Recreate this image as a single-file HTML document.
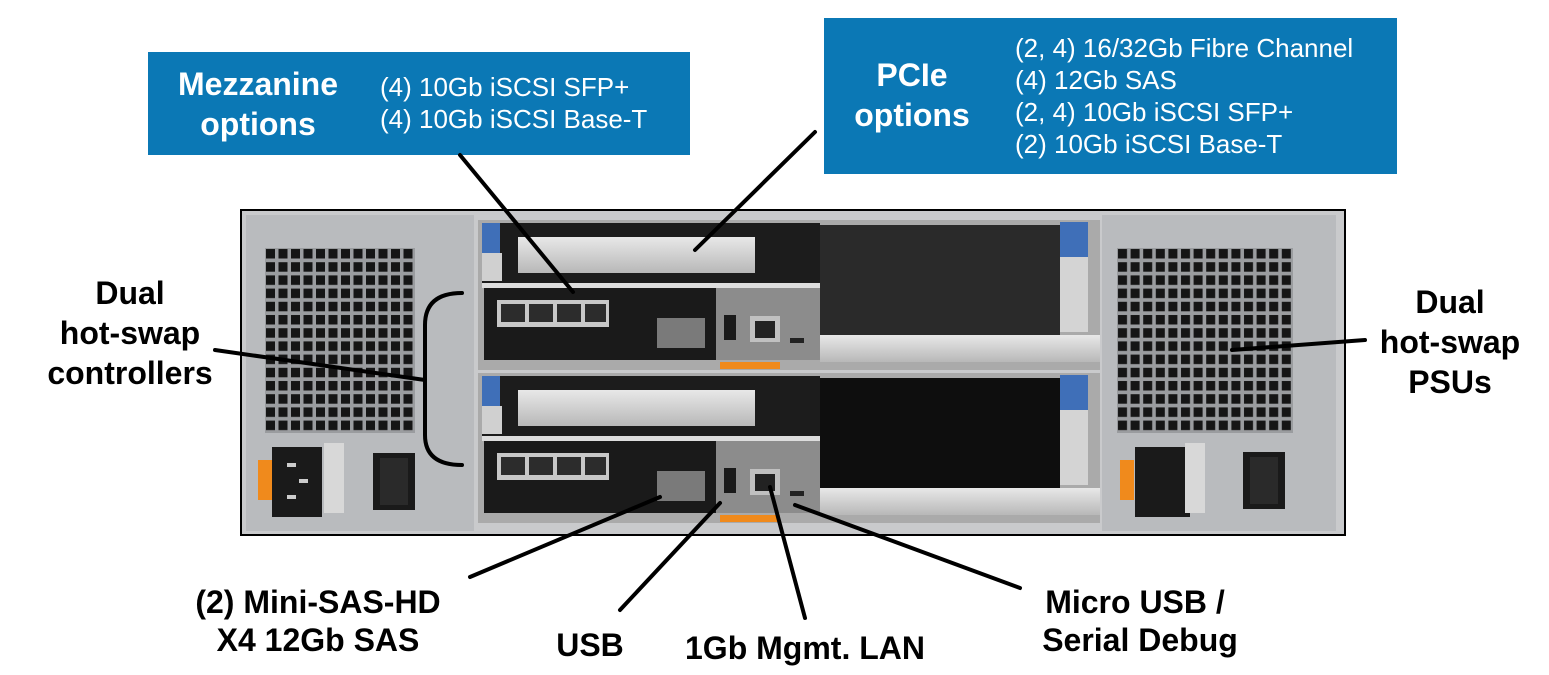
<!DOCTYPE html>
<html><head><meta charset="utf-8"><style>
html,body{margin:0;padding:0;background:#fff;}
svg{display:block;}
text{font-family:"Liberation Sans",Arial,sans-serif;}
.b{font-weight:bold;font-size:32px;fill:#000;text-anchor:middle;}
.w{font-weight:bold;font-size:32px;fill:#fff;text-anchor:middle;}
.l{font-size:26px;fill:#fff;}
</style></head><body>
<svg width="1549" height="675" viewBox="0 0 1549 675" xmlns="http://www.w3.org/2000/svg">
<defs>
<pattern id="g" x="265" y="248" width="12.5" height="13.2" patternUnits="userSpaceOnUse">
<rect width="12.5" height="13.2" fill="#9a9c9f"/><rect x="1" y="1" width="9" height="9.5" fill="#151515"/>
</pattern>
<pattern id="g2" x="1117" y="248" width="12.6" height="13.2" patternUnits="userSpaceOnUse">
<rect width="12.6" height="13.2" fill="#9a9c9f"/><rect x="1" y="1" width="9" height="9.5" fill="#151515"/>
</pattern>
<linearGradient id="sv" x1="0" y1="0" x2="0" y2="1"><stop offset="0" stop-color="#e8e8e8"/><stop offset="1" stop-color="#b8b8b8"/></linearGradient>
</defs>

<rect x="148" y="52" width="542" height="103" fill="#0b78b5"/>
<text class="w" x="258" y="95">Mezzanine</text>
<text class="w" x="258" y="135">options</text>
<text class="l" x="380" y="96">(4) 10Gb iSCSI SFP+</text>
<text class="l" x="380" y="128">(4) 10Gb iSCSI Base-T</text>

<rect x="824" y="18" width="573" height="156" fill="#0b78b5"/>
<text class="w" x="912" y="86">PCIe</text>
<text class="w" x="912" y="126">options</text>
<text class="l" x="1015" y="57">(2, 4) 16/32Gb Fibre Channel</text>
<text class="l" x="1015" y="89">(4) 12Gb SAS</text>
<text class="l" x="1015" y="121">(2, 4) 10Gb iSCSI SFP+</text>
<text class="l" x="1015" y="153">(2) 10Gb iSCSI Base-T</text>

<rect x="241" y="210" width="1104" height="325" fill="#c9cacc" stroke="#000" stroke-width="2"/>
<rect x="246" y="215" width="228" height="316" fill="#b9bbbe"/>
<rect x="265" y="248" width="150" height="185" fill="url(#g)"/>
<rect x="258" y="460" width="14" height="40" fill="#f08a1c"/>
<rect x="272" y="447" width="50" height="70" fill="#1a1a1a"/>
<rect x="287" y="463" width="9" height="4" fill="#ccc"/><rect x="299" y="479" width="9" height="4" fill="#ccc"/><rect x="287" y="495" width="9" height="4" fill="#ccc"/>
<rect x="324" y="443" width="20" height="70" fill="#d8d8d8"/>
<rect x="373" y="453" width="42" height="57" fill="#1a1a1a"/>
<rect x="380" y="458" width="28" height="47" fill="#2a2a2a"/>
<rect x="1102" y="215" width="234" height="316" fill="#b9bbbe"/>
<rect x="1117" y="248" width="176" height="185" fill="url(#g2)"/>
<rect x="1120" y="460" width="14" height="40" fill="#f08a1c"/>
<rect x="1135" y="447" width="55" height="70" fill="#1a1a1a"/>
<rect x="1185" y="443" width="20" height="70" fill="#d8d8d8"/>
<rect x="1243" y="452" width="42" height="57" fill="#1a1a1a"/>
<rect x="1250" y="457" width="28" height="47" fill="#2a2a2a"/>

<g id="c">
<rect x="478" y="220" width="622" height="150" fill="#aaa"/>
<rect x="482" y="223" width="338" height="60" fill="#1c1c1c"/>
<rect x="518" y="237" width="237" height="36" fill="url(#sv)"/>
<rect x="482" y="223" width="18" height="30" fill="#3f6fb8"/>
<rect x="482" y="253" width="20" height="28" fill="#d0d0d0"/>
<rect x="482" y="283" width="338" height="5" fill="#ddd"/>
<rect x="484" y="288" width="232" height="72" fill="#1a1a1a"/>
<rect x="497" y="300" width="112" height="27" fill="#c8c8c8"/>
<rect x="501" y="304" width="24" height="18" fill="#2c2c2c"/><rect x="529" y="304" width="24" height="18" fill="#2c2c2c"/><rect x="557" y="304" width="24" height="18" fill="#2c2c2c"/><rect x="585" y="304" width="21" height="18" fill="#2c2c2c"/>
<rect x="657" y="318" width="48" height="30" fill="#7a7a7a"/>
<rect x="716" y="288" width="104" height="72" fill="#8c8c8c"/>
<rect x="724" y="315" width="12" height="25" fill="#1a1a1a"/>
<rect x="750" y="316" width="30" height="26" fill="#c0c0c0"/><rect x="755" y="321" width="20" height="17" fill="#222"/>
<rect x="790" y="338" width="14" height="5" fill="#222"/>
<rect x="820" y="225" width="240" height="110" fill="#2a2a2a"/>
<rect x="820" y="335" width="280" height="27" fill="url(#sv)"/>
<rect x="1060" y="222" width="28" height="35" fill="#3f6fb8"/>
<rect x="1060" y="257" width="28" height="75" fill="#d4d4d4"/>
<rect x="720" y="362" width="60" height="7" fill="#f08a1c"/>
</g>
<use href="#c" transform="translate(0,153)"/>
<rect x="820" y="378" width="240" height="110" fill="#0e0e0e"/>

<g stroke="#000" stroke-width="4" fill="none" stroke-linecap="round">
<line x1="460" y1="155" x2="573" y2="292"/>
<line x1="815" y1="132" x2="695" y2="250"/>
<line x1="215" y1="350" x2="425" y2="380"/>
<path d="M462 293 Q425 293 425 325 L425 435 Q425 465 462 465"/>
<line x1="1365" y1="340" x2="1232" y2="350"/>
<line x1="470" y1="577" x2="660" y2="497"/>
<line x1="620" y1="610" x2="720" y2="503"/>
<line x1="805" y1="618" x2="770" y2="487"/>
<line x1="1020" y1="588" x2="795" y2="505"/>
</g>

<text class="b" x="130" y="304">Dual</text>
<text class="b" x="130" y="344">hot-swap</text>
<text class="b" x="130" y="384">controllers</text>
<text class="b" x="1450" y="313">Dual</text>
<text class="b" x="1450" y="353">hot-swap</text>
<text class="b" x="1450" y="393">PSUs</text>
<text class="b" x="318" y="613">(2) Mini-SAS-HD</text>
<text class="b" x="318" y="651">X4 12Gb SAS</text>
<text class="b" x="590" y="656">USB</text>
<text class="b" x="805" y="659">1Gb Mgmt. LAN</text>
<text class="b" x="1135" y="613">Micro USB /</text>
<text class="b" x="1140" y="651">Serial Debug</text>
</svg>
</body></html>
